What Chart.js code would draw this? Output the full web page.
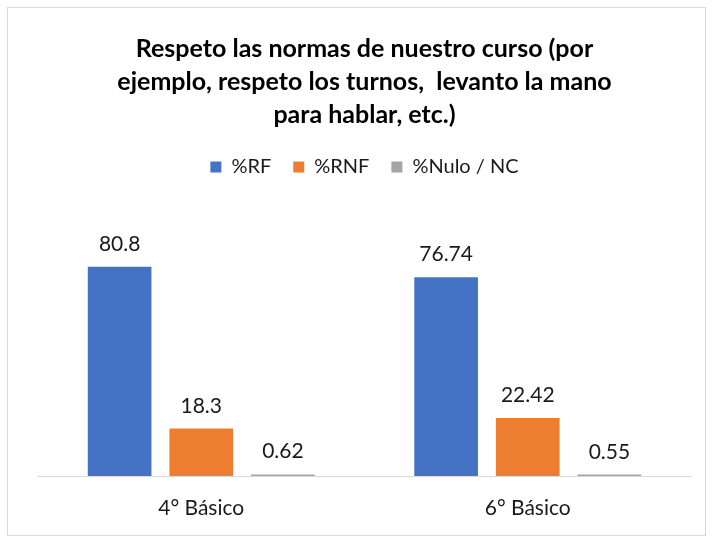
<!DOCTYPE html>
<html>
<head>
<meta charset="utf-8">
<script src="https://cdn.jsdelivr.net/npm/chart.js@4.4.0/dist/chart.umd.min.js"></script>
<style>
  body { margin: 0; background: #fff; }
  #frame { position: absolute; left: 7px; top: 7px; width: 697px; height: 527px; border: 1px solid #d9d9d9; }
</style>
</head>
<body>
<div id="frame"><canvas id="chart" width="697" height="527"></canvas></div>
<script>
const categories = ['4° Básico', '6° Básico'];
const seriesNames = ['%RF', '%RNF', '%Nulo / NC'];
const rf = [80.8, 76.74];
const rnf = [18.3, 22.42];
const nulo = [0.62, 0.55];
const colors = ['#4472C4', '#ED7D31', '#A5A5A5'];

const FONT = 'Lato, "Open Sans", sans-serif';
const TEXT = '#1a1a1a';

// draws the value above each bar, excel style
const valueLabels = {
  id: 'valueLabels',
  afterDatasetsDraw(chart) {
    const ctx = chart.ctx;
    ctx.save();
    ctx.font = '21px ' + FONT;
    ctx.fillStyle = TEXT;
    ctx.textAlign = 'center';
    ctx.textBaseline = 'alphabetic';
    chart.data.datasets.forEach((ds, i) => {
      chart.getDatasetMeta(i).data.forEach((bar, j) => {
        ctx.fillText(String(ds.data[j]), bar.x, bar.y - 16);
      });
    });
    ctx.restore();
  }
};

// extra room under the legend
const legendGap = {
  id: 'legendGap',
  beforeInit(chart) {
    const fit = chart.legend.fit;
    chart.legend.fit = function () {
      fit.bind(chart.legend)();
      this.height += 30;
    };
  }
};

new Chart(document.getElementById('chart'), {
  type: 'bar',
  data: {
    labels: categories,
    datasets: [rf, rnf, nulo].map((d, i) => ({
      label: seriesNames[i],
      data: d,
      backgroundColor: colors[i],
      barPercentage: 0.78,
      categoryPercentage: 0.75
    }))
  },
  options: {
    responsive: false,
    animation: false,
    layout: { padding: { left: 30, right: 14, top: 20, bottom: 0 } },
    plugins: {
      title: {
        display: true,
        text: ['Respeto las normas de nuestro curso (por', 'ejemplo, respeto los turnos,  levanto la mano', 'para hablar, etc.)'],
        color: '#000',
        font: { family: FONT, size: 25, weight: 'bold', lineHeight: 1.32 },
        padding: { top: 4, bottom: 4 }
      },
      legend: {
        labels: {
          boxWidth: 11,
          boxHeight: 11,
          color: TEXT,
          font: { family: FONT, size: 20 },
          padding: 22
        }
      },
      tooltip: { enabled: false }
    },
    scales: {
      x: {
        grid: { display: false },
        border: { color: '#d9d9d9' },
        ticks: { color: TEXT, font: { family: FONT, size: 21 }, padding: 12 },
        afterFit(scale) { scale.height = 59; }
      },
      y: { display: false, min: 0, max: 100 }
    }
  },
  plugins: [valueLabels, legendGap]
});
</script>
</body>
</html>
